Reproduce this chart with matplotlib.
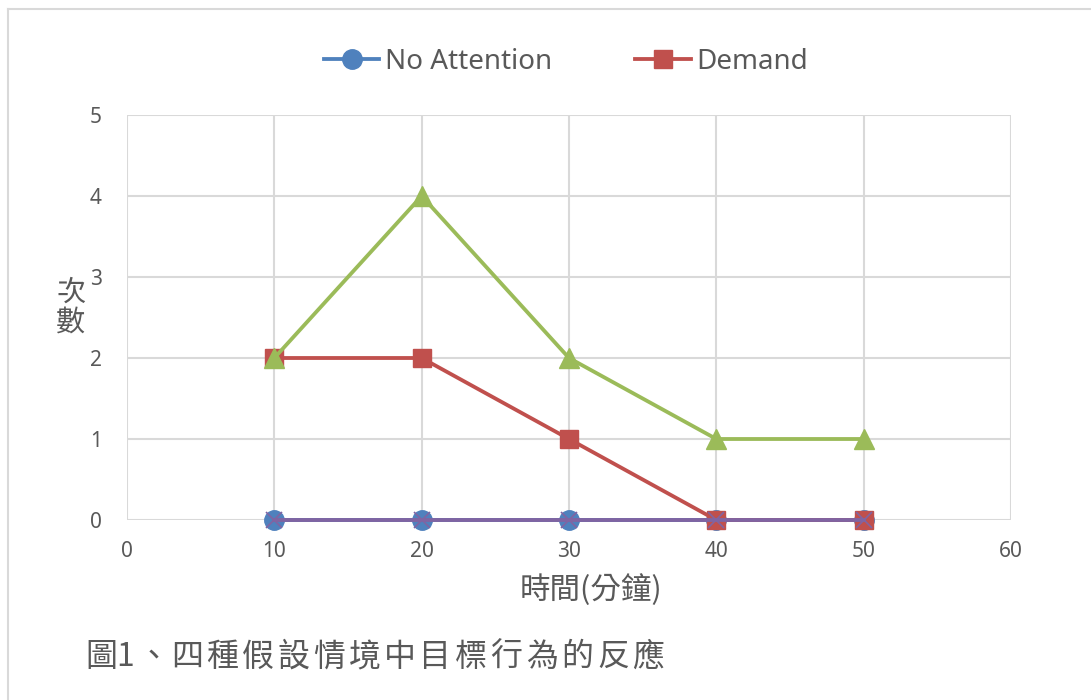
import matplotlib.pyplot as plt
from matplotlib.lines import Line2D

plt.rcParams['font.family'] = ['Noto Sans', 'Noto Sans CJK TC', 'DejaVu Sans']

# 資料
minutes = [10, 20, 30, 40, 50]
no_attention = [0, 0, 0, 0, 0]
demand = [2, 2, 1, 0, 0]
series3 = [2, 4, 2, 1, 1]
series4 = [0, 0, 0, 0, 0]
x_ticks = [0, 10, 20, 30, 40, 50, 60]
y_ticks = [0, 1, 2, 3, 4, 5]
caption = "圖1、四種假設情境中目標行為的反應"

W, H = 1091, 700
fig = plt.figure(figsize=(W / 100, H / 100), dpi=100)
ax = fig.add_axes([127 / W, 1 - 520 / H, (1011 - 127) / W, (520 - 115) / H])

grid_c = '#d9d9d9'
text_c = '#595959'

ax.plot(minutes, no_attention, color='#4f81bd', lw=2.75, marker='o', ms=14, zorder=3, clip_on=False)
ax.plot(minutes, demand, color='#c0504d', lw=2.75, marker='s', ms=13.5, zorder=4, clip_on=False)
ax.plot(minutes, series3, color='#9bbb59', lw=2.75, marker='^', ms=15, zorder=5, clip_on=False)
ax.plot(minutes, series4, color='#8064a2', lw=2.75, marker='x', ms=12, mew=1.2, zorder=6, clip_on=False)

ax.set_xlim(0, 60)
ax.set_ylim(0, 5)
ax.set_xticks(x_ticks)
ax.set_yticks(y_ticks)
ax.set_xticklabels([str(v) for v in x_ticks])
for s in ax.spines.values():
    s.set_visible(False)
ax.grid(True, color=grid_c, lw=1.5)
ax.set_axisbelow(True)
ax.tick_params(length=0, labelsize=15, labelcolor=text_c)
ax.tick_params(axis='x', pad=15)
ax.tick_params(axis='y', pad=18)

# 軸標題
fig.text(71 / W, 1 - 308 / H, "次\n數", ha='center', va='center', fontsize=21,
         color=text_c, linespacing=1.0, family=['Noto Sans CJK TC'], weight='light')
fig.text(591 / W, 1 - 590 / H, "時間(分鐘)", ha='center', va='center', fontsize=22,
         color=text_c, family=['Noto Sans CJK TC'], weight='light')

# 圖例
handles = [
    Line2D([], [], color='#4f81bd', lw=2.75, marker='o', ms=14),
    Line2D([], [], color='#c0504d', lw=2.75, marker='s', ms=13.5),
]
leg = fig.legend(handles, ['No Attention', 'Demand'], loc='center', ncol=2,
                 bbox_to_anchor=(566 / W, 1 - 62 / H), frameon=False, fontsize=20,
                 handlelength=2.0, handletextpad=0.2, columnspacing=3.0)
for t in leg.get_texts():
    t.set_color(text_c)

# 圖說（字距較寬）
centers = [101, 125, 154]
for i in range(len(caption) - 3):
    centers.append(187 + 35.5 * i)
for ch, cx in zip(caption, centers):
    fig.text(cx / W, 1 - 657 / H, ch, ha='center', va='center', fontsize=23,
             color=text_c, family=['Noto Sans CJK TC'], weight='light')

# 外框（僅左、上可見）
fig.add_artist(Line2D([8 / W, 8 / W], [0, 1 - 9 / H], color=grid_c, lw=1.5))
fig.add_artist(Line2D([8 / W, 1], [1 - 9 / H, 1 - 9 / H], color=grid_c, lw=1.5))

fig.savefig('out.png', dpi=100)
